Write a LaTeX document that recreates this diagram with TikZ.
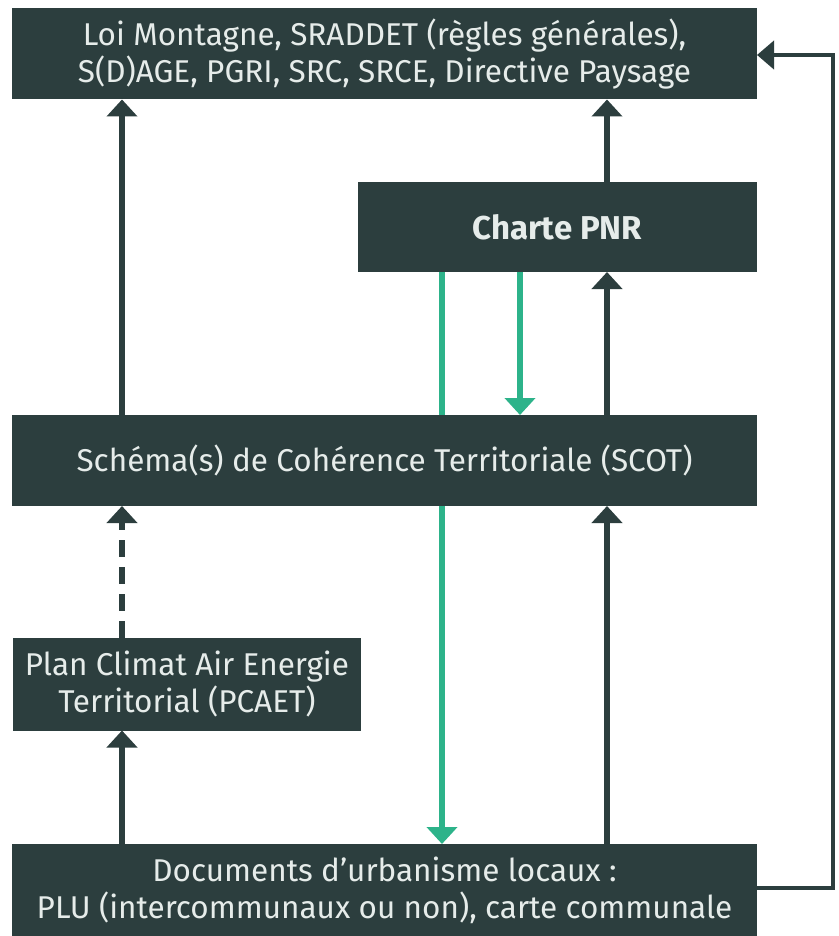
\documentclass[tikz,border=0pt]{standalone}
\usepackage{fontspec}
\setmainfont{Fira Sans}
\usetikzlibrary{arrows.meta,backgrounds}
\definecolor{boxc}{HTML}{2C3E3E}
\definecolor{txtc}{HTML}{E6ECEA}
\definecolor{grn}{HTML}{2DB38A}
\begin{document}
\begin{tikzpicture}[x=1pt,y=-1pt,
  box/.style={fill=boxc, text=txtc, inner sep=0pt, outer sep=0pt, align=center,
    font=\fontsize{31.5}{37}\selectfont},
  darr/.style={draw=boxc, line width=6pt, -{Triangle[width=30pt,length=17pt]}},
  garr/.style={draw=grn, line width=6pt, -{Triangle[width=30pt,length=17pt]}},
  rarr/.style={draw=boxc, line width=4pt, -{Triangle[width=28pt,length=17pt]}},
  dasharr/.style={darr, dash pattern=on 17pt off 10pt}]
\useasboundingbox (0,0) rectangle (838,936);

\node[box, minimum width=745pt, minimum height=91pt] (top) at (384.5,54)
  {Loi Montagne, SRADDET (règles générales),\\S(D)AGE, PGRI, SRC, SRCE, Directive Paysage};
\node[box, minimum width=399pt, minimum height=90pt, font=\fontsize{33}{37}\selectfont\bfseries] (charte) at (557.5,227)
  {Charte PNR};
\node[box, minimum width=745pt, minimum height=91pt] (scot) at (384.5,460.5)
  {Schéma(s) de Cohérence Territoriale (SCOT)};
\node[box, minimum width=348pt, minimum height=93pt] (pcaet) at (187,684)
  {Plan Climat Air Energie\\Territorial (PCAET)};
\node[box, minimum width=745pt, minimum height=92pt] (docs) at (384.5,890)
  {Documents d’urbanisme locaux :\\PLU (intercommunaux ou non), carte communale};

\coordinate (xa) at (122,0);
\coordinate (xb) at (442,0);
\coordinate (xc) at (520,0);
\coordinate (xd) at (607,0);
\coordinate (r1) at (833,888);
\coordinate (r2) at (833,55);

\begin{pgfonlayer}{background}
\fill[white] (0,0) rectangle (838,936);
\draw[darr] (scot.north -| xa) -- (top.south -| xa);
\draw[darr] (charte.north -| xd) -- (top.south -| xd);
\draw[garr] (charte.south -| xb) -- (docs.north -| xb);
\draw[garr] (charte.south -| xc) -- (scot.north -| xc);
\draw[darr] (scot.north -| xd) -- (charte.south -| xd);
\draw[dasharr] (pcaet.north -| xa) -- (scot.south -| xa);
\draw[darr] (docs.north -| xa) -- (pcaet.south -| xa);
\draw[darr] (docs.north -| xd) -- (scot.south -| xd);
\draw[rarr] (docs.east |- r1) -- (r1) -- (r2) -- (top.east |- r2);
\end{pgfonlayer}
\end{tikzpicture}
\end{document}
